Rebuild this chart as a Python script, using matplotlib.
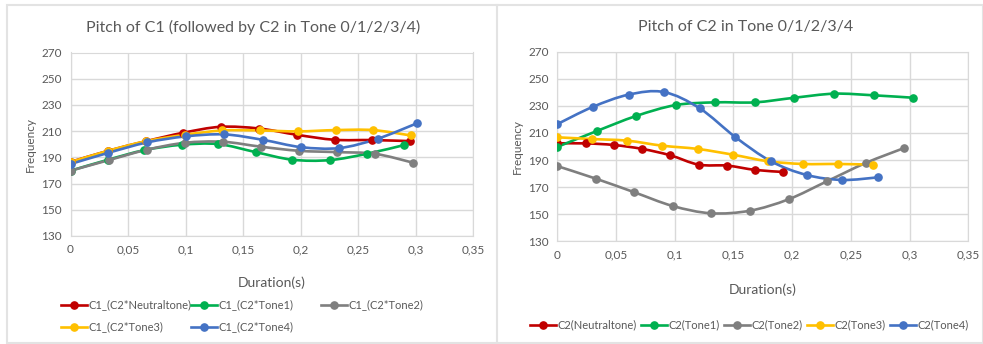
import matplotlib
matplotlib.use('Agg')
import matplotlib.pyplot as plt
import numpy as np
from matplotlib.path import Path
from matplotlib.patches import PathPatch, Rectangle
from matplotlib.lines import Line2D
from matplotlib.ticker import FuncFormatter

plt.rcParams['font.family'] = ['Lato', 'DejaVu Sans']

# Left chart: pitch of C1
c1_neutral_x = [0.0, 0.0327, 0.066, 0.0982, 0.1306, 0.164, 0.197, 0.2297, 0.262, 0.295]
c1_neutral_y = [186.5, 195.0, 202.4, 208.8, 213.3, 212.0, 207.2, 203.4, 203.2, 202.4]
c1_tone1_x = [0.0, 0.0327, 0.0643, 0.0967, 0.1286, 0.161, 0.193, 0.2254, 0.2575, 0.2897]
c1_tone1_y = [179.8, 188.2, 195.5, 199.6, 200.1, 194.0, 188.2, 187.9, 192.7, 199.3]
c1_tone2_x = [0.0, 0.0333, 0.0663, 0.0994, 0.1324, 0.1657, 0.1987, 0.2317, 0.2648, 0.298]
c1_tone2_y = [179.8, 187.9, 195.8, 201.1, 201.9, 198.1, 195.0, 194.0, 192.7, 185.9]
c1_tone3_x = [0.0, 0.0327, 0.066, 0.0994, 0.132, 0.165, 0.1976, 0.2306, 0.263, 0.296]
c1_tone3_y = [186.4, 195.0, 202.4, 207.2, 210.5, 210.5, 209.8, 210.8, 210.8, 206.7]
c1_tone4_x = [0.0, 0.033, 0.0666, 0.1002, 0.1338, 0.167, 0.2005, 0.2338, 0.267, 0.301]
c1_tone4_y = [184.9, 193.5, 201.4, 206.0, 207.5, 203.4, 197.8, 197.1, 204.2, 215.9]

# Right chart: pitch of C2
c2_neutral_x = [0.0, 0.0244, 0.0485, 0.0726, 0.0964, 0.1205, 0.1446, 0.1688, 0.1926]
c2_neutral_y = [202.3, 202.3, 201.1, 198.2, 193.5, 186.6, 185.9, 182.7, 181.2]
c2_tone1_x = [0.0, 0.0338, 0.0672, 0.101, 0.1347, 0.1684, 0.202, 0.236, 0.2694, 0.3032]
c2_tone1_y = [199.6, 211.4, 222.5, 230.6, 232.6, 232.6, 236.0, 239.0, 237.8, 236.0]
c2_tone2_x = [0.0, 0.0329, 0.0658, 0.0984, 0.131, 0.1642, 0.197, 0.2297, 0.2626, 0.2955]
c2_tone2_y = [185.6, 176.3, 166.2, 156.1, 150.7, 152.6, 161.0, 174.3, 187.8, 198.9]
c2_tone3_x = [0.0, 0.030, 0.0598, 0.0896, 0.1197, 0.1494, 0.1795, 0.2093, 0.239, 0.2691]
c2_tone3_y = [206.8, 205.5, 204.3, 200.6, 198.2, 194.0, 189.1, 187.1, 187.1, 186.6]
c2_tone4_x = [0.0, 0.0303, 0.061, 0.091, 0.1214, 0.1517, 0.182, 0.2124, 0.2427, 0.273]
c2_tone4_y = [216.4, 229.2, 238.3, 240.2, 228.2, 207.0, 189.1, 179.0, 175.3, 177.2]

labels_c1 = ['C1_(C2*Neutraltone)', 'C1_(C2*Tone1)', 'C1_(C2*Tone2)',
             'C1_(C2*Tone3)', 'C1_(C2*Tone4)']
labels_c2 = ['C2(Neutraltone)', 'C2(Tone1)', 'C2(Tone2)', 'C2(Tone3)', 'C2(Tone4)']
colors = ['#C00000', '#00B050', '#7F7F7F', '#FFC000', '#4472C4']

x_ticks = [0, 0.05, 0.1, 0.15, 0.2, 0.25, 0.3, 0.35]
y_ticks = [130, 150, 170, 190, 210, 230, 250, 270]

TEXT = '#595959'
GRID = '#D9D9D9'
W, H = 983, 344


# Excel-like smoothed line: cubic bezier through the points (Catmull-Rom style)
def smooth_path(x, y):
    pts = np.column_stack([x, y])
    verts = [pts[0]]
    codes = [Path.MOVETO]
    n = len(pts)
    for i in range(n - 1):
        p0 = pts[i - 1] if i > 0 else pts[i]
        p1 = pts[i]
        p2 = pts[i + 1]
        p3 = pts[i + 2] if i + 2 < n else pts[i + 1]
        c1 = p1 + (p2 - p0) / 6.0
        c2 = p2 - (p3 - p1) / 6.0
        verts += [c1, c2, p2]
        codes += [Path.CURVE4] * 3
    return Path(verts, codes)


def draw_chart(ax, series):
    for (x, y), c in zip(series, colors):
        ax.add_patch(PathPatch(smooth_path(x, y), facecolor='none', edgecolor=c,
                               lw=1.9, zorder=3, capstyle='round'))
        ax.plot(x, y, 'o', color=c, ms=5.2, zorder=4)
    ax.set_xlim(0, 0.35)
    ax.set_ylim(130, 270)
    ax.set_xticks(x_ticks)
    ax.set_yticks(y_ticks)
    ax.xaxis.set_major_formatter(FuncFormatter(lambda v, p: ('%g' % v).replace('.', ',')))
    ax.grid(True, color=GRID, lw=1)
    ax.set_axisbelow(True)
    for s in ax.spines.values():
        s.set_color(GRID)
    ax.tick_params(length=0, labelsize=8.5, labelcolor=TEXT, pad=6)
    ax.set_xlabel('Duration(s)', fontsize=10, color=TEXT)
    ax.xaxis.set_label_coords(0.5, -0.256)
    ax.xaxis.label.set_va('center')
    ax.set_ylabel('Frequency', fontsize=8.5, color=TEXT, labelpad=4)


# one legend entry per call so each sits where the reference has it
def legend_entry(color, label, x, y):
    h = Line2D([0], [0], color=color, lw=1.9, marker='o', ms=5.2, label=label)
    fig.legend(handles=[h], loc='center left', bbox_to_anchor=(x / W, 1 - y / H),
               frameon=False, fontsize=8, labelcolor=TEXT, handlelength=2.3,
               handletextpad=0.2, borderaxespad=0, borderpad=0)


fig = plt.figure(figsize=(W / 100, H / 100), dpi=100)

# chart frames
fig.patches.append(Rectangle((7 / W, 1 / H), 976 / W, 338 / H, transform=fig.transFigure,
                             fill=False, edgecolor='#E3E3E3', lw=1.5))
fig.lines.append(Line2D([497 / W, 497 / W], [1 / H, 339 / H], transform=fig.transFigure,
                        color='#E3E3E3', lw=1.5))

ax1 = fig.add_axes([70.5 / W, 1 - 236 / H, 402.5 / W, 183.5 / H])
ax2 = fig.add_axes([557 / W, 1 - 241.3 / H, 411.3 / W, 189.6 / H])

draw_chart(ax1, [(c1_neutral_x, c1_neutral_y), (c1_tone1_x, c1_tone1_y), (c1_tone2_x, c1_tone2_y),
                 (c1_tone3_x, c1_tone3_y), (c1_tone4_x, c1_tone4_y)])
draw_chart(ax2, [(c2_neutral_x, c2_neutral_y), (c2_tone1_x, c2_tone1_y), (c2_tone2_x, c2_tone2_y),
                 (c2_tone3_x, c2_tone3_y), (c2_tone4_x, c2_tone4_y)])

fig.text(253 / W, 1 - 27 / H, 'Pitch of C1 (followed by C2 in Tone 0/1/2/3/4)',
         ha='center', va='center', fontsize=11.5, color=TEXT)
fig.text(746 / W, 1 - 27 / H, 'Pitch of C2 in Tone 0/1/2/3/4',
         ha='center', va='center', fontsize=11.5, color=TEXT)

left_pos = [(61, 305), (191, 305), (321, 305), (61, 327), (191, 327)]
for c, l, (x, y) in zip(colors, labels_c1, left_pos):
    legend_entry(c, l, x, y)

right_pos = [(530, 325), (641, 325), (724, 325), (807, 325), (890, 325)]
for c, l, (x, y) in zip(colors, labels_c2, right_pos):
    legend_entry(c, l, x, y)

fig.savefig('out.png', dpi=100)
